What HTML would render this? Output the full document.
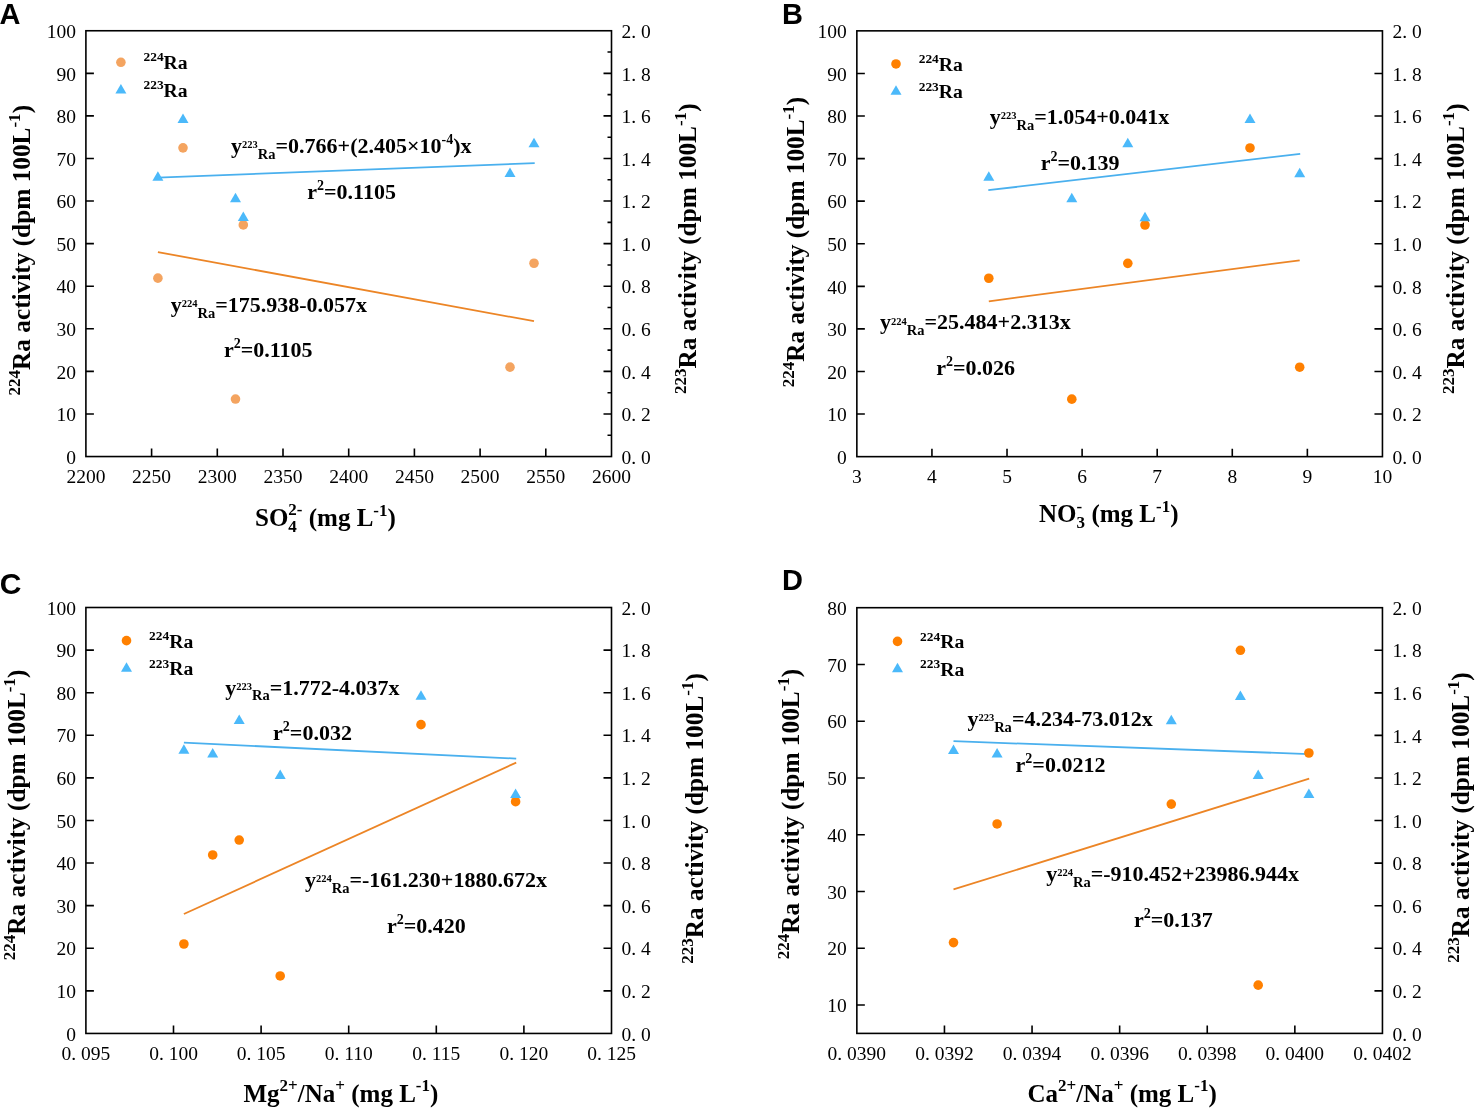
<!DOCTYPE html><html><head><meta charset="utf-8"><style>html,body{margin:0;padding:0;background:#fff;overflow:hidden}svg{display:block;will-change:transform}</style></head><body>
<svg width="1477" height="1109" viewBox="0 0 1477 1109">
<rect width="1477" height="1109" fill="#fff"/>
<path d="M85.90 413.97h8 M85.90 371.39h8 M85.90 328.81h8 M85.90 286.23h8 M85.90 243.65h8 M85.90 201.07h8 M85.90 158.49h8 M85.90 115.91h8 M85.90 73.33h8 M611.50 413.97h-8 M611.50 371.39h-8 M611.50 328.81h-8 M611.50 286.23h-8 M611.50 243.65h-8 M611.50 201.07h-8 M611.50 158.49h-8 M611.50 115.91h-8 M611.50 73.33h-8 M611.50 435.26h-4 M611.50 392.68h-4 M611.50 350.10h-4 M611.50 307.52h-4 M611.50 264.94h-4 M611.50 222.36h-4 M611.50 179.78h-4 M611.50 137.20h-4 M611.50 94.62h-4 M611.50 52.04h-4 M151.60 456.55v-8 M217.30 456.55v-8 M283.00 456.55v-8 M348.70 456.55v-8 M414.40 456.55v-8 M480.10 456.55v-8 M545.80 456.55v-8" stroke="#000" stroke-width="1.6" fill="none"/>
<rect x="85.90" y="30.75" width="525.60" height="425.80" fill="none" stroke="#000" stroke-width="1.6"/>
<g font-family='"Liberation Serif", serif' font-size="19.5" fill="#000"><text x="75.90" y="463.75" text-anchor="end">0</text><text x="75.90" y="421.17" text-anchor="end">10</text><text x="75.90" y="378.59" text-anchor="end">20</text><text x="75.90" y="336.01" text-anchor="end">30</text><text x="75.90" y="293.43" text-anchor="end">40</text><text x="75.90" y="250.85" text-anchor="end">50</text><text x="75.90" y="208.27" text-anchor="end">60</text><text x="75.90" y="165.69" text-anchor="end">70</text><text x="75.90" y="123.11" text-anchor="end">80</text><text x="75.90" y="80.53" text-anchor="end">90</text><text x="75.90" y="37.95" text-anchor="end">100</text><text x="621.50" y="463.75">0. 0</text><text x="621.50" y="421.17">0. 2</text><text x="621.50" y="378.59">0. 4</text><text x="621.50" y="336.01">0. 6</text><text x="621.50" y="293.43">0. 8</text><text x="621.50" y="250.85">1. 0</text><text x="621.50" y="208.27">1. 2</text><text x="621.50" y="165.69">1. 4</text><text x="621.50" y="123.11">1. 6</text><text x="621.50" y="80.53">1. 8</text><text x="621.50" y="37.95">2. 0</text><text x="85.90" y="483.05" text-anchor="middle">2200</text><text x="151.60" y="483.05" text-anchor="middle">2250</text><text x="217.30" y="483.05" text-anchor="middle">2300</text><text x="283.00" y="483.05" text-anchor="middle">2350</text><text x="348.70" y="483.05" text-anchor="middle">2400</text><text x="414.40" y="483.05" text-anchor="middle">2450</text><text x="480.10" y="483.05" text-anchor="middle">2500</text><text x="545.80" y="483.05" text-anchor="middle">2550</text><text x="611.50" y="483.05" text-anchor="middle">2600</text></g>
<line x1="157.6" y1="177.6" x2="534.7" y2="163.2" stroke="#4AB0EE" stroke-width="1.8"/>
<line x1="157.9" y1="252.1" x2="534.0" y2="321.2" stroke="#EC8526" stroke-width="1.8"/>
<circle cx="157.90" cy="278.14" r="4.8" fill="#F4A460"/><circle cx="183.00" cy="147.85" r="4.8" fill="#F4A460"/><circle cx="235.50" cy="399.07" r="4.8" fill="#F4A460"/><circle cx="243.30" cy="224.91" r="4.8" fill="#F4A460"/><circle cx="510.00" cy="367.13" r="4.8" fill="#F4A460"/><circle cx="534.00" cy="263.24" r="4.8" fill="#F4A460"/><path d="M152.40 180.66L157.90 171.16L163.40 180.66Z" fill="#4BB9FA"/><path d="M177.50 122.96L183.00 113.46L188.50 122.96Z" fill="#4BB9FA"/><path d="M230.00 202.16L235.50 192.66L241.00 202.16Z" fill="#4BB9FA"/><path d="M237.80 221.11L243.30 211.61L248.80 221.11Z" fill="#4BB9FA"/><path d="M504.50 177.04L510.00 167.54L515.50 177.04Z" fill="#4BB9FA"/><path d="M528.50 147.24L534.00 137.74L539.50 147.24Z" fill="#4BB9FA"/>
<path d="M856.85 414.07h8 M856.85 371.49h8 M856.85 328.91h8 M856.85 286.33h8 M856.85 243.75h8 M856.85 201.17h8 M856.85 158.59h8 M856.85 116.01h8 M856.85 73.43h8 M1382.45 414.07h-8 M1382.45 371.49h-8 M1382.45 328.91h-8 M1382.45 286.33h-8 M1382.45 243.75h-8 M1382.45 201.17h-8 M1382.45 158.59h-8 M1382.45 116.01h-8 M1382.45 73.43h-8 M931.94 456.65v-8 M1007.02 456.65v-8 M1082.11 456.65v-8 M1157.19 456.65v-8 M1232.28 456.65v-8 M1307.36 456.65v-8" stroke="#000" stroke-width="1.6" fill="none"/>
<rect x="856.85" y="30.85" width="525.60" height="425.80" fill="none" stroke="#000" stroke-width="1.6"/>
<g font-family='"Liberation Serif", serif' font-size="19.5" fill="#000"><text x="846.85" y="463.85" text-anchor="end">0</text><text x="846.85" y="421.27" text-anchor="end">10</text><text x="846.85" y="378.69" text-anchor="end">20</text><text x="846.85" y="336.11" text-anchor="end">30</text><text x="846.85" y="293.53" text-anchor="end">40</text><text x="846.85" y="250.95" text-anchor="end">50</text><text x="846.85" y="208.37" text-anchor="end">60</text><text x="846.85" y="165.79" text-anchor="end">70</text><text x="846.85" y="123.21" text-anchor="end">80</text><text x="846.85" y="80.63" text-anchor="end">90</text><text x="846.85" y="38.05" text-anchor="end">100</text><text x="1392.45" y="463.85">0. 0</text><text x="1392.45" y="421.27">0. 2</text><text x="1392.45" y="378.69">0. 4</text><text x="1392.45" y="336.11">0. 6</text><text x="1392.45" y="293.53">0. 8</text><text x="1392.45" y="250.95">1. 0</text><text x="1392.45" y="208.37">1. 2</text><text x="1392.45" y="165.79">1. 4</text><text x="1392.45" y="123.21">1. 6</text><text x="1392.45" y="80.63">1. 8</text><text x="1392.45" y="38.05">2. 0</text><text x="856.85" y="483.15" text-anchor="middle">3</text><text x="931.94" y="483.15" text-anchor="middle">4</text><text x="1007.02" y="483.15" text-anchor="middle">5</text><text x="1082.11" y="483.15" text-anchor="middle">6</text><text x="1157.19" y="483.15" text-anchor="middle">7</text><text x="1232.28" y="483.15" text-anchor="middle">8</text><text x="1307.36" y="483.15" text-anchor="middle">9</text><text x="1382.45" y="483.15" text-anchor="middle">10</text></g>
<line x1="988.3" y1="190.2" x2="1300.2" y2="153.8" stroke="#4AB0EE" stroke-width="1.8"/>
<line x1="988.8" y1="301.3" x2="1299.7" y2="260.3" stroke="#EC8526" stroke-width="1.8"/>
<circle cx="988.80" cy="278.24" r="4.8" fill="#FF8000"/><circle cx="1250.00" cy="147.94" r="4.8" fill="#FF8000"/><circle cx="1071.80" cy="399.17" r="4.8" fill="#FF8000"/><circle cx="1145.00" cy="225.01" r="4.8" fill="#FF8000"/><circle cx="1299.70" cy="367.23" r="4.8" fill="#FF8000"/><circle cx="1127.80" cy="263.34" r="4.8" fill="#FF8000"/><path d="M983.30 180.76L988.80 171.26L994.30 180.76Z" fill="#4BB9FA"/><path d="M1244.50 123.06L1250.00 113.56L1255.50 123.06Z" fill="#4BB9FA"/><path d="M1066.30 202.26L1071.80 192.76L1077.30 202.26Z" fill="#4BB9FA"/><path d="M1139.50 221.21L1145.00 211.71L1150.50 221.21Z" fill="#4BB9FA"/><path d="M1294.20 177.14L1299.70 167.64L1305.20 177.14Z" fill="#4BB9FA"/><path d="M1122.30 147.34L1127.80 137.84L1133.30 147.34Z" fill="#4BB9FA"/>
<path d="M85.90 990.86h8 M85.90 948.26h8 M85.90 905.67h8 M85.90 863.07h8 M85.90 820.48h8 M85.90 777.88h8 M85.90 735.29h8 M85.90 692.69h8 M85.90 650.10h8 M611.50 990.86h-8 M611.50 948.26h-8 M611.50 905.66h-8 M611.50 863.07h-8 M611.50 820.48h-8 M611.50 777.88h-8 M611.50 735.28h-8 M611.50 692.69h-8 M611.50 650.10h-8 M173.50 1033.45v-8 M261.10 1033.45v-8 M348.70 1033.45v-8 M436.30 1033.45v-8 M523.90 1033.45v-8" stroke="#000" stroke-width="1.6" fill="none"/>
<rect x="85.90" y="607.50" width="525.60" height="425.95" fill="none" stroke="#000" stroke-width="1.6"/>
<g font-family='"Liberation Serif", serif' font-size="19.5" fill="#000"><text x="75.90" y="1040.65" text-anchor="end">0</text><text x="75.90" y="998.06" text-anchor="end">10</text><text x="75.90" y="955.46" text-anchor="end">20</text><text x="75.90" y="912.87" text-anchor="end">30</text><text x="75.90" y="870.27" text-anchor="end">40</text><text x="75.90" y="827.68" text-anchor="end">50</text><text x="75.90" y="785.08" text-anchor="end">60</text><text x="75.90" y="742.49" text-anchor="end">70</text><text x="75.90" y="699.89" text-anchor="end">80</text><text x="75.90" y="657.30" text-anchor="end">90</text><text x="75.90" y="614.70" text-anchor="end">100</text><text x="621.50" y="1040.65">0. 0</text><text x="621.50" y="998.06">0. 2</text><text x="621.50" y="955.46">0. 4</text><text x="621.50" y="912.87">0. 6</text><text x="621.50" y="870.27">0. 8</text><text x="621.50" y="827.68">1. 0</text><text x="621.50" y="785.08">1. 2</text><text x="621.50" y="742.49">1. 4</text><text x="621.50" y="699.89">1. 6</text><text x="621.50" y="657.30">1. 8</text><text x="621.50" y="614.70">2. 0</text><text x="85.90" y="1059.95" text-anchor="middle">0. 095</text><text x="173.50" y="1059.95" text-anchor="middle">0. 100</text><text x="261.10" y="1059.95" text-anchor="middle">0. 105</text><text x="348.70" y="1059.95" text-anchor="middle">0. 110</text><text x="436.30" y="1059.95" text-anchor="middle">0. 115</text><text x="523.90" y="1059.95" text-anchor="middle">0. 120</text><text x="611.50" y="1059.95" text-anchor="middle">0. 125</text></g>
<line x1="183.9" y1="742.6" x2="516.2" y2="758.6" stroke="#4AB0EE" stroke-width="1.8"/>
<line x1="183.9" y1="914.0" x2="516.2" y2="762.6" stroke="#EC8526" stroke-width="1.8"/>
<circle cx="212.70" cy="854.98" r="4.8" fill="#FF8000"/><circle cx="421.00" cy="724.64" r="4.8" fill="#FF8000"/><circle cx="280.20" cy="975.95" r="4.8" fill="#FF8000"/><circle cx="515.60" cy="801.73" r="4.8" fill="#FF8000"/><circle cx="183.90" cy="944.00" r="4.8" fill="#FF8000"/><circle cx="239.20" cy="840.07" r="4.8" fill="#FF8000"/><path d="M207.20 757.46L212.70 747.96L218.20 757.46Z" fill="#4BB9FA"/><path d="M415.50 699.75L421.00 690.25L426.50 699.75Z" fill="#4BB9FA"/><path d="M274.70 778.97L280.20 769.47L285.70 778.97Z" fill="#4BB9FA"/><path d="M510.10 797.93L515.60 788.43L521.10 797.93Z" fill="#4BB9FA"/><path d="M178.40 753.84L183.90 744.34L189.40 753.84Z" fill="#4BB9FA"/><path d="M233.70 724.02L239.20 714.52L244.70 724.02Z" fill="#4BB9FA"/>
<path d="M856.85 1005.02h8 M856.85 948.26h8 M856.85 891.50h8 M856.85 834.74h8 M856.85 777.98h8 M856.85 721.22h8 M856.85 664.46h8 M1382.45 990.83h-8 M1382.45 948.26h-8 M1382.45 905.69h-8 M1382.45 863.12h-8 M1382.45 820.55h-8 M1382.45 777.98h-8 M1382.45 735.41h-8 M1382.45 692.84h-8 M1382.45 650.27h-8 M944.45 1033.40v-8 M1032.05 1033.40v-8 M1119.65 1033.40v-8 M1207.25 1033.40v-8 M1294.85 1033.40v-8" stroke="#000" stroke-width="1.6" fill="none"/>
<rect x="856.85" y="607.70" width="525.60" height="425.70" fill="none" stroke="#000" stroke-width="1.6"/>
<g font-family='"Liberation Serif", serif' font-size="19.5" fill="#000"><text x="846.85" y="1012.22" text-anchor="end">10</text><text x="846.85" y="955.46" text-anchor="end">20</text><text x="846.85" y="898.70" text-anchor="end">30</text><text x="846.85" y="841.94" text-anchor="end">40</text><text x="846.85" y="785.18" text-anchor="end">50</text><text x="846.85" y="728.42" text-anchor="end">60</text><text x="846.85" y="671.66" text-anchor="end">70</text><text x="846.85" y="614.90" text-anchor="end">80</text><text x="1392.45" y="1040.60">0. 0</text><text x="1392.45" y="998.03">0. 2</text><text x="1392.45" y="955.46">0. 4</text><text x="1392.45" y="912.89">0. 6</text><text x="1392.45" y="870.32">0. 8</text><text x="1392.45" y="827.75">1. 0</text><text x="1392.45" y="785.18">1. 2</text><text x="1392.45" y="742.61">1. 4</text><text x="1392.45" y="700.04">1. 6</text><text x="1392.45" y="657.47">1. 8</text><text x="1392.45" y="614.90">2. 0</text><text x="856.85" y="1059.90" text-anchor="middle">0. 0390</text><text x="944.45" y="1059.90" text-anchor="middle">0. 0392</text><text x="1032.05" y="1059.90" text-anchor="middle">0. 0394</text><text x="1119.65" y="1059.90" text-anchor="middle">0. 0396</text><text x="1207.25" y="1059.90" text-anchor="middle">0. 0398</text><text x="1294.85" y="1059.90" text-anchor="middle">0. 0400</text><text x="1382.45" y="1059.90" text-anchor="middle">0. 0402</text></g>
<line x1="953.5" y1="741.2" x2="1308.9" y2="754.1" stroke="#4AB0EE" stroke-width="1.8"/>
<line x1="953.5" y1="889.4" x2="1309.2" y2="778.7" stroke="#EC8526" stroke-width="1.8"/>
<circle cx="997.10" cy="823.96" r="4.8" fill="#FF8000"/><circle cx="1240.40" cy="650.27" r="4.8" fill="#FF8000"/><circle cx="1258.20" cy="985.15" r="4.8" fill="#FF8000"/><circle cx="1308.90" cy="753.01" r="4.8" fill="#FF8000"/><circle cx="953.50" cy="942.58" r="4.8" fill="#FF8000"/><circle cx="1171.30" cy="804.09" r="4.8" fill="#FF8000"/><path d="M991.60 757.58L997.10 748.08L1002.60 757.58Z" fill="#4BB9FA"/><path d="M1234.90 699.89L1240.40 690.39L1245.90 699.89Z" fill="#4BB9FA"/><path d="M1252.70 779.07L1258.20 769.57L1263.70 779.07Z" fill="#4BB9FA"/><path d="M1303.40 798.02L1308.90 788.52L1314.40 798.02Z" fill="#4BB9FA"/><path d="M948.00 753.96L953.50 744.46L959.00 753.96Z" fill="#4BB9FA"/><path d="M1165.80 724.16L1171.30 714.66L1176.80 724.16Z" fill="#4BB9FA"/>
<circle cx="120.9" cy="62.3" r="4.8" fill="#F4A460"/>
<path d="M115.40 93.40L120.90 83.90L126.40 93.40Z" fill="#4BB9FA"/>
<text x="143.5" y="69.1" font-family='"Liberation Serif", serif' font-weight="bold" font-size="19.7"><tspan font-size="13.4" dy="-7.7">224</tspan><tspan dy="7.7">Ra</tspan></text>
<text x="143.5" y="96.6" font-family='"Liberation Serif", serif' font-weight="bold" font-size="19.7"><tspan font-size="13.4" dy="-7.7">223</tspan><tspan dy="7.7">Ra</tspan></text>
<circle cx="896.0" cy="63.95" r="4.8" fill="#FF8000"/>
<path d="M890.50 94.75L896.00 85.25L901.50 94.75Z" fill="#4BB9FA"/>
<text x="918.7" y="70.9" font-family='"Liberation Serif", serif' font-weight="bold" font-size="19.7"><tspan font-size="13.4" dy="-7.7">224</tspan><tspan dy="7.7">Ra</tspan></text>
<text x="918.7" y="98.2" font-family='"Liberation Serif", serif' font-weight="bold" font-size="19.7"><tspan font-size="13.4" dy="-7.7">223</tspan><tspan dy="7.7">Ra</tspan></text>
<circle cx="126.5" cy="640.65" r="4.8" fill="#FF8000"/>
<path d="M121.00 671.75L126.50 662.25L132.00 671.75Z" fill="#4BB9FA"/>
<text x="149.1" y="647.9" font-family='"Liberation Serif", serif' font-weight="bold" font-size="19.7"><tspan font-size="13.4" dy="-7.7">224</tspan><tspan dy="7.7">Ra</tspan></text>
<text x="149.1" y="675.2" font-family='"Liberation Serif", serif' font-weight="bold" font-size="19.7"><tspan font-size="13.4" dy="-7.7">223</tspan><tspan dy="7.7">Ra</tspan></text>
<circle cx="897.5" cy="641.4" r="4.8" fill="#FF8000"/>
<path d="M892.00 672.25L897.50 662.75L903.00 672.25Z" fill="#4BB9FA"/>
<text x="920.1" y="648.4" font-family='"Liberation Serif", serif' font-weight="bold" font-size="19.7"><tspan font-size="13.4" dy="-7.7">224</tspan><tspan dy="7.7">Ra</tspan></text>
<text x="920.1" y="675.75" font-family='"Liberation Serif", serif' font-weight="bold" font-size="19.7"><tspan font-size="13.4" dy="-7.7">223</tspan><tspan dy="7.7">Ra</tspan></text>
<text x="231.1" y="152.7" font-family='"Liberation Serif", serif' font-weight="bold" font-size="22">y<tspan font-size="10.5" dy="-4.8">223</tspan><tspan font-size="14.5" dy="10.6">Ra</tspan><tspan dy="-5.8">=0.766+(2.405×10<tspan font-size="14" dy="-9">-4</tspan><tspan dy="9">)x</tspan></tspan></text><text x="307.3" y="198.6" font-family='"Liberation Serif", serif' font-weight="bold" font-size="22">r<tspan font-size="14" dy="-9">2</tspan><tspan dy="9">=0.1105</tspan></text><text x="170.7" y="311.7" font-family='"Liberation Serif", serif' font-weight="bold" font-size="22">y<tspan font-size="10.5" dy="-4.8">224</tspan><tspan font-size="14.5" dy="10.6">Ra</tspan><tspan dy="-5.8">=175.938-0.057x</tspan></text><text x="224.0" y="356.9" font-family='"Liberation Serif", serif' font-weight="bold" font-size="22">r<tspan font-size="14" dy="-9">2</tspan><tspan dy="9">=0.1105</tspan></text><text x="989.8" y="123.7" font-family='"Liberation Serif", serif' font-weight="bold" font-size="22">y<tspan font-size="10.5" dy="-4.8">223</tspan><tspan font-size="14.5" dy="10.6">Ra</tspan><tspan dy="-5.8">=1.054+0.041x</tspan></text><text x="1040.7" y="169.6" font-family='"Liberation Serif", serif' font-weight="bold" font-size="22">r<tspan font-size="14" dy="-9">2</tspan><tspan dy="9">=0.139</tspan></text><text x="880.1" y="329.4" font-family='"Liberation Serif", serif' font-weight="bold" font-size="22">y<tspan font-size="10.5" dy="-4.8">224</tspan><tspan font-size="14.5" dy="10.6">Ra</tspan><tspan dy="-5.8">=25.484+2.313x</tspan></text><text x="936.2" y="374.8" font-family='"Liberation Serif", serif' font-weight="bold" font-size="22">r<tspan font-size="14" dy="-9">2</tspan><tspan dy="9">=0.026</tspan></text><text x="225.2" y="694.5" font-family='"Liberation Serif", serif' font-weight="bold" font-size="22">y<tspan font-size="10.5" dy="-4.8">223</tspan><tspan font-size="14.5" dy="10.6">Ra</tspan><tspan dy="-5.8">=1.772-4.037x</tspan></text><text x="273.1" y="739.9" font-family='"Liberation Serif", serif' font-weight="bold" font-size="22">r<tspan font-size="14" dy="-9">2</tspan><tspan dy="9">=0.032</tspan></text><text x="305.0" y="886.7" font-family='"Liberation Serif", serif' font-weight="bold" font-size="22">y<tspan font-size="10.5" dy="-4.8">224</tspan><tspan font-size="14.5" dy="10.6">Ra</tspan><tspan dy="-5.8">=-161.230+1880.672x</tspan></text><text x="387.0" y="932.5" font-family='"Liberation Serif", serif' font-weight="bold" font-size="22">r<tspan font-size="14" dy="-9">2</tspan><tspan dy="9">=0.420</tspan></text><text x="967.4" y="725.9" font-family='"Liberation Serif", serif' font-weight="bold" font-size="22">y<tspan font-size="10.5" dy="-4.8">223</tspan><tspan font-size="14.5" dy="10.6">Ra</tspan><tspan dy="-5.8">=4.234-73.012x</tspan></text><text x="1015.6" y="771.9" font-family='"Liberation Serif", serif' font-weight="bold" font-size="22">r<tspan font-size="14" dy="-9">2</tspan><tspan dy="9">=0.0212</tspan></text><text x="1046.2" y="881.2" font-family='"Liberation Serif", serif' font-weight="bold" font-size="22">y<tspan font-size="10.5" dy="-4.8">224</tspan><tspan font-size="14.5" dy="10.6">Ra</tspan><tspan dy="-5.8">=-910.452+23986.944x</tspan></text><text x="1134.0" y="926.8" font-family='"Liberation Serif", serif' font-weight="bold" font-size="22">r<tspan font-size="14" dy="-9">2</tspan><tspan dy="9">=0.137</tspan></text>
<text x="255" y="526" font-family='"Liberation Serif", serif' font-weight="bold" font-size="25">SO<tspan font-size="17" dy="6">4</tspan><tspan font-size="17" dx="-8.5" dy="-17">2-</tspan><tspan dy="11"> (mg L</tspan><tspan font-size="17" dy="-10">-1</tspan><tspan dy="10">)</tspan></text>
<text x="1039" y="522" font-family='"Liberation Serif", serif' font-weight="bold" font-size="25">NO<tspan font-size="17" dy="6">3</tspan><tspan font-size="17" dx="-8.5" dy="-16.5">-</tspan><tspan dx="3" dy="10.5"> (mg L</tspan><tspan font-size="17" dy="-10">-1</tspan><tspan dy="10">)</tspan></text>
<text x="243.5" y="1102.4" font-family='"Liberation Serif", serif' font-weight="bold" font-size="25">Mg<tspan font-size="17" dy="-11">2+</tspan><tspan dy="11">/Na</tspan><tspan font-size="17" dy="-11">+</tspan><tspan dy="11"> (mg L</tspan><tspan font-size="17" dy="-11">-1</tspan><tspan dy="11">)</tspan></text>
<text x="1027.5" y="1102.4" font-family='"Liberation Serif", serif' font-weight="bold" font-size="25">Ca<tspan font-size="17" dy="-11">2+</tspan><tspan dy="11">/Na</tspan><tspan font-size="17" dy="-11">+</tspan><tspan dy="11"> (mg L</tspan><tspan font-size="17" dy="-11">-1</tspan><tspan dy="11">)</tspan></text>
<text transform="translate(30.0,250.2) rotate(-90)" x="0" y="0" text-anchor="middle" font-family='"Liberation Serif", serif' font-weight="bold" font-size="25.3"><tspan font-size="17" dy="-10">224</tspan><tspan dy="10">Ra activity (dpm 100L</tspan><tspan font-size="17" dy="-10">-1</tspan><tspan dy="10">)</tspan></text>
<text transform="translate(696.4,248.7) rotate(-90)" x="0" y="0" text-anchor="middle" font-family='"Liberation Serif", serif' font-weight="bold" font-size="25.3"><tspan font-size="17" dy="-10">223</tspan><tspan dy="10">Ra activity (dpm 100L</tspan><tspan font-size="17" dy="-10">-1</tspan><tspan dy="10">)</tspan></text>
<text transform="translate(804.2,242.05) rotate(-90)" x="0" y="0" text-anchor="middle" font-family='"Liberation Serif", serif' font-weight="bold" font-size="25.3"><tspan font-size="17" dy="-10">224</tspan><tspan dy="10">Ra activity (dpm 100L</tspan><tspan font-size="17" dy="-10">-1</tspan><tspan dy="10">)</tspan></text>
<text transform="translate(1463.8,248.7) rotate(-90)" x="0" y="0" text-anchor="middle" font-family='"Liberation Serif", serif' font-weight="bold" font-size="25.3"><tspan font-size="17" dy="-10">223</tspan><tspan dy="10">Ra activity (dpm 100L</tspan><tspan font-size="17" dy="-10">-1</tspan><tspan dy="10">)</tspan></text>
<text transform="translate(25.0,814.9) rotate(-90)" x="0" y="0" text-anchor="middle" font-family='"Liberation Serif", serif' font-weight="bold" font-size="25.3"><tspan font-size="17" dy="-10">224</tspan><tspan dy="10">Ra activity (dpm 100L</tspan><tspan font-size="17" dy="-10">-1</tspan><tspan dy="10">)</tspan></text>
<text transform="translate(702.9,818.4) rotate(-90)" x="0" y="0" text-anchor="middle" font-family='"Liberation Serif", serif' font-weight="bold" font-size="25.3"><tspan font-size="17" dy="-10">223</tspan><tspan dy="10">Ra activity (dpm 100L</tspan><tspan font-size="17" dy="-10">-1</tspan><tspan dy="10">)</tspan></text>
<text transform="translate(798.9,814.0) rotate(-90)" x="0" y="0" text-anchor="middle" font-family='"Liberation Serif", serif' font-weight="bold" font-size="25.3"><tspan font-size="17" dy="-10">224</tspan><tspan dy="10">Ra activity (dpm 100L</tspan><tspan font-size="17" dy="-10">-1</tspan><tspan dy="10">)</tspan></text>
<text transform="translate(1468.7,817.5) rotate(-90)" x="0" y="0" text-anchor="middle" font-family='"Liberation Serif", serif' font-weight="bold" font-size="25.3"><tspan font-size="17" dy="-10">223</tspan><tspan dy="10">Ra activity (dpm 100L</tspan><tspan font-size="17" dy="-10">-1</tspan><tspan dy="10">)</tspan></text>
<text x="-0.5" y="24" font-family='"Liberation Sans", sans-serif' font-weight="bold" font-size="29">A</text>
<text x="782" y="24.2" font-family='"Liberation Sans", sans-serif' font-weight="bold" font-size="29">B</text>
<text x="-0.3" y="594.3" font-family='"Liberation Sans", sans-serif' font-weight="bold" font-size="30">C</text>
<text x="782" y="590" font-family='"Liberation Sans", sans-serif' font-weight="bold" font-size="29">D</text>
</svg></body></html>
